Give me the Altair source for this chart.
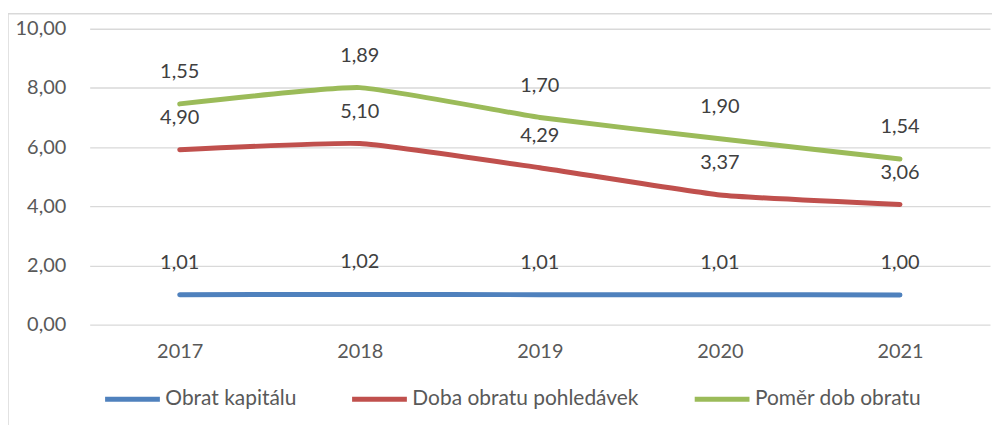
import altair as alt
import pandas as pd

years = ["2017", "2018", "2019", "2020", "2021"]
series_names = ["Obrat kapitálu", "Doba obratu pohledávek", "Poměr dob obratu"]
obrat_kapitalu = [1.01, 1.02, 1.01, 1.01, 1.00]
doba_obratu_pohledavek = [4.90, 5.10, 4.29, 3.37, 3.06]
pomer_dob_obratu = [1.55, 1.89, 1.70, 1.90, 1.54]
colors = ["#4F81BD", "#C0504D", "#9BBB59"]

rows = []
cum = [0.0] * len(years)
for name, vals in zip(series_names, [obrat_kapitalu, doba_obratu_pohledavek, pomer_dob_obratu]):
    for i, (yr, v) in enumerate(zip(years, vals)):
        cum[i] += v
        rows.append({"year": yr, "series": name, "value": v, "stacked": round(cum[i], 2),
                     "label": f"{v:.2f}".replace(".", ",")})
df = pd.DataFrame(rows)

FONT = "Lato"
TXT = "#595959"

x_enc = alt.X("year:O", scale=alt.Scale(type="point", padding=0.5), sort=years,
              axis=alt.Axis(title=None, labelFontSize=20, labelFont=FONT, labelColor=TXT,
                            ticks=False, domain=False, labelAngle=0, labelPadding=17, grid=False))
y_enc = alt.Y("stacked:Q", scale=alt.Scale(domain=[0, 10]),
              axis=alt.Axis(title=None, values=[0, 2, 4, 6, 8, 10],
                            labelExpr="replace(format(datum.value, '.2f'), '.', ',')",
                            labelFontSize=20, labelFont=FONT, labelColor=TXT,
                            ticks=False, domain=False, labelPadding=24,
                            gridColor="#D9D9D9", gridWidth=1.3))

base = alt.Chart(df)

lines = base.mark_line(strokeWidth=5, strokeCap="round", interpolate="cardinal", tension=0.6).encode(
    x=x_enc,
    y=y_enc,
    color=alt.Color("series:N", sort=series_names,
                    scale=alt.Scale(domain=series_names, range=colors),
                    legend=alt.Legend(title=None, orient="none", direction="horizontal",
                                      legendX=13, legendY=342,
                                      symbolType="stroke", symbolSize=3025, symbolStrokeWidth=5,
                                      labelFont=FONT, labelFontSize=21, labelColor=TXT,
                                      labelLimit=500,
                                      labelOffset=3, columnPadding=45, padding=0)),
    order=alt.Order("year:O"),
)

labels = base.mark_text(dy=-32, baseline="middle", align="center",
                        font=FONT, fontSize=20, color="#404040").encode(
    x=alt.X("year:O", scale=alt.Scale(type="point", padding=0.5), sort=years),
    y=alt.Y("stacked:Q"),
    text="label:N",
)

border = alt.Chart(pd.DataFrame({"a": [0]})).mark_rect(
    fill="transparent", stroke="#D9D9D9", strokeWidth=1.5
).encode(x=alt.value(-82), x2=alt.value(1100), y=alt.value(-15), y2=alt.value(600))

chart = alt.layer(border, lines, labels).properties(
    width=904, height=297,
    autosize=alt.AutoSizeParams(type="none"),
    padding={"left": 82, "top": 20, "right": 2, "bottom": 100},
).configure_view(stroke=None)

chart.save("out.html", embed_options={"renderer": "svg", "actions": False})
